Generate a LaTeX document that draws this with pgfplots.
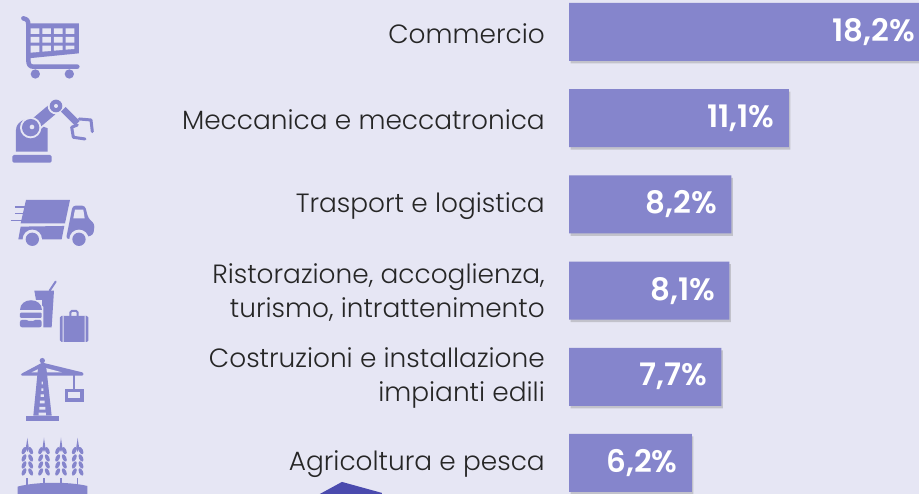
\documentclass[border=0pt]{standalone}
\usepackage{fontspec}
\setmainfont{Poppins Light}[BoldFont={Poppins SemiBold}]
\usepackage{pgfplots}
\pgfplotsset{compat=1.18}
\usetikzlibrary{shadows}
\definecolor{bgc}{HTML}{E6E6F4}
\definecolor{barc}{HTML}{8585CC}
\definecolor{darkc}{HTML}{4A4AAE}
\newcommand{\wheat}[1]{%
  \begin{scope}[shift={(#1,0)}]
    \fill[barc] (-2.5,685) rectangle (2.5,715);
    \fill[barc] (0,563) .. controls (2,585) and (8,595) .. (0,606) .. controls (-8,595) and (-2,585) .. (0,563);
    \foreach \yy in {602,624,645,666}{
      \fill[barc,rotate around={-25:(-10,\yy)}] (-10,\yy) ellipse (6 and 12);
      \fill[barc,rotate around={25:(10,\yy)}] (10,\yy) ellipse (6 and 12);
    }
  \end{scope}}
\begin{document}
\begin{tikzpicture}[x=1bp,y=1bp]
\fill[bgc] (0,0) rectangle (919,494);
% icons, in 3x reference coordinates
\begin{scope}[shift={(0,494)},x=0.3333bp,y=-0.3333bp]
 % cart
 \draw[barc,line width=4.5bp,line cap=round,line join=round] (70,55) .. controls (82,58) and (85,62) .. (85,75) -- (85,180) .. controls (85,195) and (90,200) .. (100,200) -- (232,200);
 \fill[barc] (85,70) -- (237,70) -- (237,160) -- (85,175) -- cycle;
 \fill[bgc] \foreach \a/\b in {92/118,127/153,162/188,197/223}{(\a,85) rectangle (\b,102) (\a,111) rectangle (\b,128)};
 \fill[bgc] (92,137) -- (118,137) -- (118,156) -- (92,158) -- cycle (127,137) -- (153,137) -- (153,153) -- (127,155) -- cycle (162,137) -- (188,137) -- (188,150) -- (162,152) -- cycle (197,137) -- (223,137) -- (223,147) -- (197,149) -- cycle;
 \fill[barc] (106,222) circle (14) (208,222) circle (14);
 % robot
 \fill[barc,rounded corners=1.5bp] (37,488) -- (37,465) -- (155,465) -- (155,488) -- cycle;
 \fill[barc] (48,455) -- (48,390) .. controls (48,375) and (58,365) .. (75,358) -- (143,385) -- (143,455) -- cycle;
 \draw[bgc,line width=15bp] (92,383) -- (158,328);
 \draw[barc,line width=11.5bp] (92,383) -- (155,330);
 \fill[bgc] (92,383) circle (32);
 \fill[barc] (92,383) circle (26);
 \fill[bgc] (96,381) circle (7);
 \fill[bgc] (168,318) circle (25);
 \fill[barc] (168,318) circle (19);
 \fill[bgc] (168,318) circle (6);
 \draw[barc,line width=6.5bp] (190,328) -- (232,370);
 \draw[barc,line width=3bp,line cap=round,line join=round] (238,357) -- (273,360) -- (277,395);
 \draw[barc,line width=3bp,line cap=round,line join=round] (232,375) -- (215,382) -- (220,412) -- (255,417);
 % truck
 \fill[barc] (78,600) -- (210,600) -- (195,670) -- (62,670) -- cycle;
 \draw[barc,line width=1.7bp] (45,622) -- (75,622) (45,641) -- (70,641) (32,662) -- (68,662);
 \fill[barc] (62,680) -- (193,678) -- (185,718) -- (62,718) -- (55,718) -- cycle;
 \fill[barc,rounded corners=3bp] (218,617) -- (255,617) -- (265,655) -- (284,672) -- (280,705) -- (255,712) -- (198,718) -- cycle;
 \fill[bgc] (225,629) -- (250,629) -- (254,655) -- (220,655) -- cycle;
 \fill[bgc] (97,718) circle (29) (237,718) circle (29);
 \fill[barc] (97,718) circle (20) (237,718) circle (20);
 \fill[bgc] (40,738) rectangle (300,760);
 \begin{scope}[shift={(0,750)}]
  % food
  \draw[barc,line width=2bp,line cap=round] (149,122) -- (167,95);
  \fill[barc] (103,122) -- (162,122) -- (155,232) -- (130,232) -- (130,170) -- (108,150) -- cycle;
  \fill[bgc] (58,150) rectangle (126,234);
  \fill[barc] (60,181) .. controls (60,140) and (125,140) .. (125,181) -- cycle;
  \fill[barc,rounded corners=1bp] (60,188) rectangle (125,204);
  \fill[barc,rounded corners=2bp] (60,210) -- (85,210) -- (93,217) -- (100,210) -- (125,210) -- (125,232) -- (60,232) -- cycle;
  \fill[barc,rounded corners=1.5bp] (180,198) rectangle (265,276);
  \fill[bgc] (188,198) rectangle (191,276) (254,198) rectangle (257,276);
  \draw[barc,line width=2bp,rounded corners=1.5bp] (211,198) -- (211,183) -- (233,183) -- (233,198);
  % crane
  \fill[barc] (127,332) circle (8);
  \fill[barc,rounded corners=1bp] (63,372) -- (127,338) -- (250,368) -- (250,377) -- (63,377) -- cycle;
  \fill[bgc] (95,367) -- (122,354) -- (122,367) -- cycle (137,354) -- (185,367) -- (137,367) -- cycle;
  \fill[barc] (115,345) -- (138,345) -- (155,497) -- (100,497) -- cycle;
  \fill[bgc] \foreach \yy/\w in {395/2,415/3,433/5,452/7,471/9,488/11}{(127-\w,\yy) rectangle (127+\w,\yy+8)};
  \fill[barc] (78,497) rectangle (177,512);
  \fill[barc] (219,375) rectangle (226,420);
  \fill[barc] (195,418) rectangle (251,455);
  \fill[bgc] (203,427) rectangle (241,445);
  % wheat
  \wheat{82}\wheat{132}\wheat{183}\wheat{233}
  \fill[barc] (53,710) .. controls (110,695) and (205,695) .. (262,708) -- (262,745) -- (53,745) -- cycle;
 \end{scope}
 % bottom shape
 \fill[darkc] (960,1482) -- (1026,1446) -- (1146,1479) -- (1146,1482) -- cycle;
\end{scope}
\begin{axis}[
  at={(569bp,0bp)},anchor=south west,
  scale only axis,width=366.3bp,height=494bp,
  xmin=0,xmax=18.5,
  y dir=reverse,ymin=-0.371,ymax=5.36,
  xbar,bar width=58bp,bar shift=0pt,
  axis line style={draw=none},
  xtick=\empty,ytick={0,1,2,3,4,5},
  major tick length=0pt,
  yticklabels={Commercio,Meccanica e meccatronica,Trasport e logistica,{Ristorazione, accoglienza,\\turismo, intrattenimento},{Costruzioni e installazione\\impianti edili},Agricoltura e pesca},
  yticklabel style={align=right,inner sep=0pt,xshift=-24bp,yshift=-1.5bp,font=\fontsize{26.4bp}{34bp}\selectfont,text=black!85},
  point meta=x,
  nodes near coords={\pgfmathprintnumber{\pgfplotspointmeta}\%},
  every node near coord/.append style={anchor=east,xshift=-14bp,inner sep=0pt,text=white,font=\fontsize{31bp}{36bp}\selectfont\bfseries},
  /pgf/number format/.cd,use comma,fixed,fixed zerofill,precision=1,assume math mode=true,
]
\addplot[fill=barc,draw=none,drop shadow={shadow xshift=1.5bp,shadow yshift=-2.5bp,opacity=0.35}] coordinates {(18.2,0) (11.1,1) (8.2,2) (8.1,3) (7.7,4) (6.2,5)};
\end{axis}
\pgfresetboundingbox
\path[use as bounding box] (0,0) rectangle (919,494);
\end{tikzpicture}
\end{document}
